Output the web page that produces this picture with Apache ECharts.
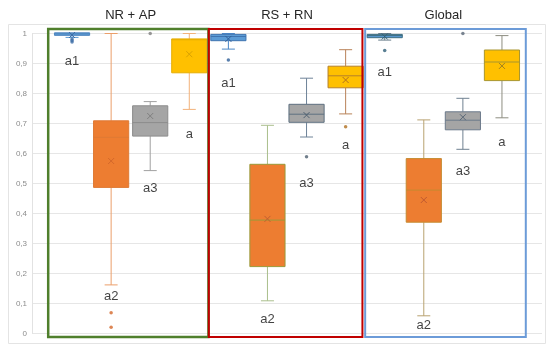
<!DOCTYPE html>
<html>
<head>
<meta charset="utf-8">
<script src="https://cdn.jsdelivr.net/npm/echarts@6/dist/echarts.min.js"></script>
<style>html,body{margin:0;padding:0;background:#fff}#c{width:550px;height:352px}</style>
</head>
<body>
<div id="c"></div>
<script>
// ---- data ----
const groups = ['NR + AP', 'RS + RN', 'Global'];
const boxNames = ['a1', 'a2', 'a3', 'a'];
const categories = ['NR+AP a1','NR+AP a2','NR+AP a3','NR+AP a','RS+RN a1','RS+RN a2','RS+RN a3','RS+RN a','Global a1','Global a2','Global a3','Global a'];
const lowWhisker = [0.987, 0.162, 0.543, 0.747, 0.948, 0.109, 0.655, 0.732, 0.978, 0.059, 0.614, 0.719];
const q1 =         [0.996, 0.487, 0.658, 0.869, 0.976, 0.223, 0.704, 0.819, 0.986, 0.371, 0.679, 0.843];
const median =     [0.999, 0.654, 0.703, 0.979, 0.990, 0.378, 0.731, 0.859, 0.993, 0.478, 0.711, 0.905];
const q3 =         [1.000, 0.709, 0.759, 0.982, 0.997, 0.564, 0.764, 0.891, 0.997, 0.583, 0.739, 0.945];
const highWhisker =[1.000, 1.000, 0.773, 1.000, 1.000, 0.694, 0.851, 0.946, 1.000, 0.712, 0.784, 0.993];
const mean =       [0.995, 0.575, 0.725, 0.931, 0.982, 0.382, 0.728, 0.845, 0.990, 0.445, 0.721, 0.892];
const outlierCat = [0, 0, 0, 1, 1, 2, 4, 6, 7, 8, 10];
const outlierVal = [0.982, 0.977, 0.972, 0.069, 0.021, 1.0, 0.912, 0.589, 0.689, 0.943, 1.0];
const labelVal =   [0.908, 0.125, 0.482, 0.664, 0.832, 0.047, 0.500, 0.628, 0.869, 0.028, 0.539, 0.637];
const yTicks = [0, 0.1, 0.2, 0.3, 0.4, 0.5, 0.6, 0.7, 0.8, 0.9, 1];
// frames around each group, in category units
const frameStart = [-0.11, 4.0, 8.0];
const frameEnd = [3.99, 7.93, 12.11];

// ---- styles ----
const fillColors = ['#5b9bd5','#ed7d31','#a5a5a5','#ffc000','#5b9bd5','#ed7d31','#a5a5a5','#ffc000','#5b9bd5','#ed7d31','#a5a5a5','#ffc000'];
const borderColors = ['#4f86bf','#de7a35','#8c8c8c','#e6ad00','#3f74b0','#9a9a3a','#5e7080','#b5802a','#3d6d80','#c48a30','#6c7a8a','#a8952e'];
const whiskerColors = ['#5b9bd5','#eb9f6a','#a0a0a0','#f2b27a','#4a86c5','#aabf8c','#6e8398','#b98258','#6b7f8c','#b8a270','#6f8090','#8d8d80'];
const meanColors = ['#3f6fa8','#d4682a','#808080','#d9a200','#2f5f98','#c06030','#4f6070','#b07020','#2f5f78','#c05a30','#5a6878','#a08020'];
const frameColors = ['#4f7f2c', '#c00000', '#6c9bd8'];

const chart = echarts.init(document.getElementById('c'), null, {renderer: 'canvas'});

function renderBox(params, api) {
  const i = api.value(0);
  const x = api.coord([i, 0])[0];
  const yLo = api.coord([i, api.value(1)])[1];
  const yQ1 = api.coord([i, api.value(2)])[1];
  const yMed = api.coord([i, api.value(3)])[1];
  const yQ3 = api.coord([i, api.value(4)])[1];
  const yHi = api.coord([i, api.value(5)])[1];
  const yMean = api.coord([i, api.value(6)])[1];
  const bw = api.size([1, 0])[0] * 0.9;
  const half = bw / 2, cap = 6.5, mx = 3;
  const wStyle = {stroke: whiskerColors[i], lineWidth: 1};
  let h = yQ1 - yQ3; let top = yQ3;
  if (h < 2.5) { top = top - (2.5 - h) / 2; h = 2.5; }
  return {type: 'group', children: [
    {type: 'line', shape: {x1: x, y1: yHi, x2: x, y2: yQ3}, style: wStyle},
    {type: 'line', shape: {x1: x, y1: yQ1, x2: x, y2: yLo}, style: wStyle},
    {type: 'line', shape: {x1: x - cap, y1: yHi, x2: x + cap, y2: yHi}, style: wStyle},
    {type: 'line', shape: {x1: x - cap, y1: yLo, x2: x + cap, y2: yLo}, style: wStyle},
    {type: 'rect', shape: {x: x - half, y: top, width: bw, height: h}, style: {fill: fillColors[i], stroke: borderColors[i], lineWidth: 1}},
    {type: 'line', shape: {x1: x - half, y1: yMed, x2: x + half, y2: yMed}, style: {stroke: borderColors[i], lineWidth: 1}},
    {type: 'line', shape: {x1: x - mx, y1: yMean - mx, x2: x + mx, y2: yMean + mx}, style: {stroke: meanColors[i], lineWidth: 1}},
    {type: 'line', shape: {x1: x - mx, y1: yMean + mx, x2: x + mx, y2: yMean - mx}, style: {stroke: meanColors[i], lineWidth: 1}}
  ]};
}

function renderFrame(params, api) {
  const p0 = api.coord([api.value(0), 1.015]);
  const p1 = api.coord([api.value(1), -0.012]);
  const k = params.dataIndex;
  return {type: 'rect', shape: {x: p0[0], y: p0[1], width: p1[0] - p0[0], height: p1[1] - p0[1]},
    style: {fill: 'none', stroke: frameColors[k], lineWidth: k === 0 ? 2.5 : 2}};
}

const option = {
  animation: false,
  backgroundColor: '#fff',
  graphic: [{type: 'rect', shape: {x: 8.5, y: 24.5, width: 537, height: 319}, style: {fill: 'none', stroke: '#e4e4e4', lineWidth: 1}, silent: true, z: -10}],
  grid: [
    {left: 32, right: 8, top: 33.5, bottom: 18.5},
    {left: 52.5, right: 28.5, top: 33.5, bottom: 18.5}
  ],
  xAxis: [
    {gridIndex: 0, type: 'value', min: 0, max: 1, show: false},
    {gridIndex: 1, type: 'category', data: categories, show: false},
    {gridIndex: 1, type: 'category', data: groups, position: 'top',
      axisLine: {show: false}, axisTick: {show: false}, splitLine: {show: false},
      axisLabel: {margin: 12, fontSize: 13, color: '#262626', fontFamily: 'Liberation Sans, Arial, sans-serif'}},
    {gridIndex: 1, type: 'value', min: 0, max: 12, show: false}
  ],
  yAxis: [
    {gridIndex: 0, type: 'value', min: 0, max: 1, interval: 0.1,
      axisLine: {show: true, lineStyle: {color: '#e2e2e2'}}, axisTick: {show: false},
      splitLine: {lineStyle: {color: '#e6e6e6', width: 1}},
      axisLabel: {margin: 5, fontSize: 8, color: '#8c8c8c', fontFamily: 'Liberation Sans, Arial, sans-serif',
        formatter: v => { const t = yTicks.find(a => Math.abs(a - v) < 1e-6); return (t === 0 || t === 1) ? String(t) : t.toFixed(1).replace('.', ','); }}},
    {gridIndex: 1, type: 'value', min: 0, max: 1, show: false}
  ],
  series: [
    {type: 'custom', xAxisIndex: 1, yAxisIndex: 1, renderItem: renderBox, clip: false, z: 3,
      encode: {x: 0, y: [1, 2, 3, 4, 5, 6]},
      data: categories.map((c, i) => [i, lowWhisker[i], q1[i], median[i], q3[i], highWhisker[i], mean[i]])},
    {type: 'scatter', xAxisIndex: 1, yAxisIndex: 1, symbolSize: 3.5, z: 4,
      data: outlierCat.map((c, k) => ({value: [c, outlierVal[k]], itemStyle: {color: meanColors[c]}}))},
    {type: 'scatter', xAxisIndex: 1, yAxisIndex: 1, symbolSize: 1, z: 5,
      itemStyle: {color: 'rgba(0,0,0,0)'},
      label: {show: true, position: 'inside', fontSize: 13, color: '#111', fontFamily: 'Liberation Sans, Arial, sans-serif', formatter: p => p.name},
      data: categories.map((c, i) => ({name: boxNames[i % 4], value: [i, labelVal[i]]}))},
    {type: 'custom', xAxisIndex: 3, yAxisIndex: 1, renderItem: renderFrame, clip: false, z: 6,
      encode: {x: [0, 1], y: 2},
      data: frameStart.map((s, k) => [s, frameEnd[k], 0.5])}
  ]
};
chart.setOption(option);
</script>
</body>
</html>
